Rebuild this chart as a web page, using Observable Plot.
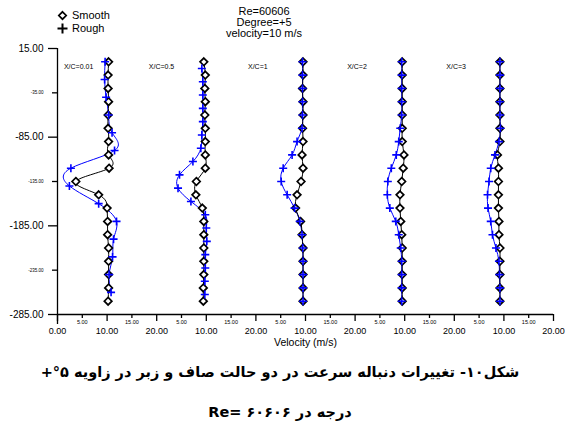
<!DOCTYPE html>
<html><head><meta charset="utf-8">
<script src="https://cdn.jsdelivr.net/npm/d3@7"></script>
<script src="https://cdn.jsdelivr.net/npm/@observablehq/plot@0.6"></script>
<style>
html,body{margin:0;padding:0;background:#fff;}
#wrap{position:relative;width:568px;height:422px;font-family:"Liberation Sans",Arial,sans-serif;color:#000;overflow:hidden;}
#chart{position:absolute;left:0;top:0;}
.legend{position:absolute;left:57px;top:9px;font-size:11px;line-height:13px;}
.legend div{display:flex;align-items:center;height:13px;}
.legend svg{margin-right:4px;}
.info{position:absolute;left:194px;width:140px;top:5.7px;text-align:center;font-size:11px;line-height:11px;}
.caption{position:absolute;left:0;top:352px;width:560px;text-align:center;font-family:"DejaVu Sans",sans-serif;font-weight:bold;font-size:14.5px;line-height:40px;}
</style>
</head><body>
<div id="wrap">
  <div id="chart"></div>
  <div class="legend">
    <div><svg width="11" height="13"><polygon points="5.5,2.8 9.2,6.5 5.5,10.2 1.8,6.5" fill="#fff" stroke="#000" stroke-width="1.7"/></svg><span>Smooth</span></div>
    <div><svg width="11" height="13"><path d="M0.5,6.5H10.5M5.5,1.5V11.5" stroke="#000" stroke-width="2"/></svg><span>Rough</span></div>
  </div>
  <div class="info">Re=60606<br>Degree=+5<br>velocity=10 m/s</div>
  <div class="caption">
    <div dir="rtl">شکل۱۰- تغییرات دنباله سرعت در دو حالت صاف و زبر در زاویه ۵°+</div>
    <div dir="rtl">درجه در ۶۰۶۰۶ =Re</div>
  </div>
</div>
<script>
// ---- data ----
const panelLabels = ["X/C=0.01", "X/C=0.5", "X/C=1", "X/C=2", "X/C=3"];

const smoothY = [0,-15,-30,-45,-60,-75,-90,-105,-120,-135,-150,-165,-180,-195,-210,-225,-240,-255,-270];
const roughY_001 = [0,-20,-40,-60,-80,-100,-120,-140,-160,-180,-200,-220,-240,-260];
const roughY_05 = [-7.5,-22.5,-37.5,-52.5,-67.5,-82.5,-97.5,-112.5,-127.5,-142.5,-157.5,-172.5,-187.5,-202.5,-217.5,-232.5,-247.5,-262.5];
const roughY_other = [0,-15,-30,-45,-60,-75,-90,-105,-120,-135,-150,-165,-180,-195,-210,-225,-240,-255,-270];

const smooth_001 = [10.3,10.2,10.2,10.3,10.2,10.2,10.3,10.3,10.4,3.7,8.3,10.0,10.1,10.1,10.3,10.3,10.3,10.3,10.2];
const smooth_05  = [9.5,9.8,9.7,9.8,9.7,9.8,9.8,9.8,9.8,8.0,7.9,9.2,9.5,9.5,9.5,9.5,9.5,9.4,9.4];
const smooth_1   = [9.5,9.5,9.4,9.5,9.5,9.4,9.5,9.3,9.5,9.1,8.3,8.0,9.0,9.3,9.5,9.5,9.5,9.5,9.5];
const smooth_2   = [9.5,9.5,9.5,9.5,9.5,9.5,9.5,9.85,9.7,9.4,9.05,9.05,9.2,9.4,9.5,9.5,9.5,9.5,9.5];
const smooth_3   = [9.2,9.2,9.2,9.2,9.2,9.2,9.2,8.7,8.9,8.9,8.9,8.9,9.0,9.0,9.2,9.2,9.2,9.2,9.2];

const rough_001 = [9.6,9.5,9.8,10.3,11.0,11.5,2.7,2.4,8.3,11.9,11.3,11.1,10.4,10.8];
const rough_05  = [9.1,9.3,9.3,9.3,9.3,9.1,8.9,7.3,4.6,4.3,6.9,9.8,10.0,10.1,9.8,9.8,9.7,9.7];
const rough_1   = [9.4,9.4,9.4,9.4,9.4,9.3,8.3,7.3,5.5,5.1,6.3,7.8,8.85,9.3,9.45,9.5,9.5,9.5,9.5];
const rough_2   = [9.4,9.4,9.4,9.4,9.4,9.1,8.8,8.3,7.3,6.6,6.5,7.0,8.2,8.8,9.2,9.4,9.4,9.4,9.4];
const rough_3   = [9.2,9.2,9.2,9.2,9.2,9.3,9.0,8.2,7.35,7.0,6.7,6.8,7.35,7.7,8.4,9.0,9.1,9.2,9.2];

const xMajorTicks = [0,10,20,30,40,50,60,70,80,90,100];
const xMajorLabels = ["0.00","10.00","20.00","10.00","20.00","10.00","20.00","10.00","20.00","10.00","20.00"];
const xMinorTicks = [5,15,25,35,45,55,65,75,85,95];
const xMinorLabels = ["5.00","15.00","5.00","15.00","5.00","15.00","5.00","15.00","5.00","15.00"];
const yMajorTicks = [15,-85,-185,-285];
const yMajorLabels = ["15.00","-85.00","-185.00","-285.00"];
const yMinorTicks = [-35,-135,-235];
const yMinorLabels = ["-35.00","-135.00","-235.00"];

// ---- build tables ----
const smoothSets = [smooth_001, smooth_05, smooth_1, smooth_2, smooth_3];
const roughSets = [rough_001, rough_05, rough_1, rough_2, rough_3];
const roughYs = [roughY_001, roughY_05, roughY_other, roughY_other, roughY_other];
const PANEL_W = 20;
const smoothRows = [], roughRows = [];
smoothSets.forEach((vals, p) => vals.forEach((v, j) => smoothRows.push({panel: p, x: p * PANEL_W + v, y: smoothY[j]})));
roughSets.forEach((vals, p) => vals.forEach((v, j) => roughRows.push({panel: p, x: p * PANEL_W + v, y: roughYs[p][j]})));

const fmt = (ticks, labels) => { const m = new Map(ticks.map((t, i) => [t, labels[i]])); return d => m.get(d); };

const chart = Plot.plot({
  width: 568, height: 352,
  marginLeft: 57, marginRight: 15, marginTop: 48, marginBottom: 38,
  style: {fontFamily: "Liberation Sans, Arial, sans-serif", color: "#000", background: "transparent"},
  x: {domain: [0, 100], axis: null, label: null},
  y: {domain: [-285, 15], axis: null, label: null},
  marks: [
    Plot.ruleY([-285], {stroke: "#000", strokeWidth: 1.3}),
    Plot.ruleX([0], {stroke: "#000", strokeWidth: 1.3, insetBottom: -10}),
    Plot.axisY(yMajorTicks, {anchor: "left", label: null, tickSize: 9, tickPadding: 5, fontSize: 10, strokeWidth: 1.3, tickFormat: fmt(yMajorTicks, yMajorLabels)}),
    Plot.axisY(yMinorTicks, {anchor: "left", label: null, tickSize: 5, tickPadding: 9, fontSize: 4.5, strokeWidth: 1.3, tickFormat: fmt(yMinorTicks, yMinorLabels)}),
    Plot.axisX(xMajorTicks, {anchor: "bottom", label: null, tickSize: 7, tickPadding: 6, fontSize: 9, strokeWidth: 1.3, tickFormat: fmt(xMajorTicks, xMajorLabels)}),
    Plot.axisX(xMinorTicks, {anchor: "bottom", label: null, tickSize: 4, tickPadding: 2, fontSize: 5.5, strokeWidth: 1.3, tickFormat: fmt(xMinorTicks, xMinorLabels)}),
    Plot.text(["Velocity (m/s)"], {frameAnchor: "bottom", dy: 31, fontSize: 10.5}),
    Plot.text(panelLabels, {x: (d, i) => i * PANEL_W + (i === 0 ? 1.3 : -1.6), frameAnchor: "top", dy: 16, textAnchor: "start", fontSize: 7}),
    Plot.line(roughRows, {x: "x", y: "y", z: "panel", stroke: "#0000ff", strokeWidth: 1, curve: "natural"}),
    Plot.line(smoothRows, {x: "x", y: "y", z: "panel", stroke: "#000", strokeWidth: 1, curve: "natural"}),
    Plot.dot(smoothRows, {x: "x", y: "y", symbol: "diamond2", r: 3.4, fill: "#fff", stroke: "#000", strokeWidth: 1.7}),
    Plot.dot(roughRows, {x: "x", y: "y", symbol: "plus", r: 2.7, stroke: "#0000ff", strokeWidth: 1.6})
  ]
});
document.getElementById("chart").appendChild(chart);
</script>
</body></html>
